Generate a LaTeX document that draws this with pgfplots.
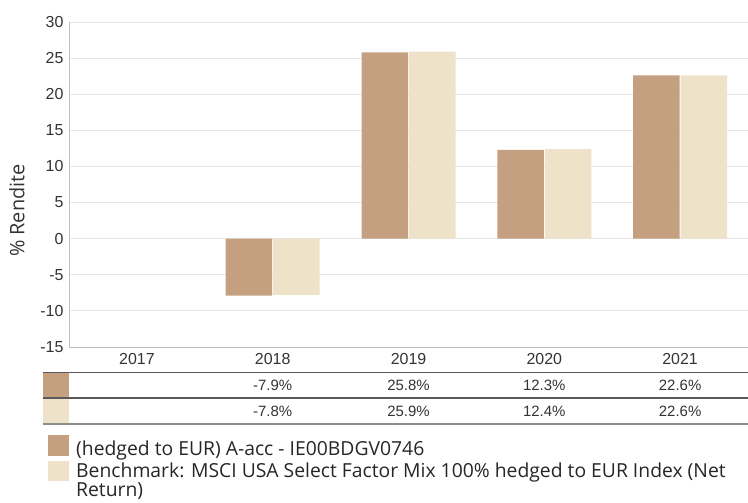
\documentclass[border=0pt]{standalone}
\usepackage{fontspec}
\setmainfont{Open Sans}
\newfontfamily\arialf{Liberation Sans}
\usepackage{pgfplots}
\pgfplotsset{compat=1.18}
\definecolor{fund}{HTML}{C4A080}
\definecolor{bench}{HTML}{EEE2C8}
\definecolor{txt}{HTML}{333333}
\begin{document}
\begin{tikzpicture}[x=1bp,y=1bp]
\useasboundingbox (-69,-156) rectangle (679,347);
\begin{axis}[
  at={(0,0)}, anchor=south west, scale only axis,
  width=679bp, height=325bp,
  xmin=-0.5, xmax=4.5, ymin=-15, ymax=30,
  ytick={-15,-10,...,30},
  xtick={0,1,2,3,4}, xticklabels={2017,2018,2019,2020,2021},
  ymajorgrids, grid style={draw=black!10, line width=0.8bp},
  axis x line*=bottom, axis y line*=left,
  axis line style={draw=black!25, line width=0.8bp, -},
  major tick length=0pt,
  ticklabel style={font=\arialf\fontsize{16}{18}\selectfont, text=txt},
  /pgf/number format/assume math mode=true,
  yticklabel style={xshift=-2bp},
  xticklabel style={yshift=-2.5bp},
  ylabel={\% Rendite},
  ylabel style={at={(axis description cs:-0.0766,0.42)}, anchor=center, font=\fontsize{20}{22}\selectfont, text=txt},
  ybar=1bp, bar width=46.5bp,
  clip=false,
]
\addplot[fill=fund, draw=none] coordinates {(1,-7.9) (2,25.8) (3,12.3) (4,22.6)};
\addplot[fill=bench, draw=none] coordinates {(1,-7.8) (2,25.9) (3,12.4) (4,22.6)};
\end{axis}
% table
\fill[fund] (-26,-26.5) rectangle (0,-50);
\fill[bench] (-26,-52) rectangle (0,-76);
\draw[line width=1.5bp, draw=black!65] (-26,-25.5) -- (679,-25.5);
\draw[line width=1.5bp, draw=black!65] (-26,-51) -- (679,-51);
\draw[line width=1.5bp, draw=black!45] (-26,-77) -- (679,-77);
\foreach \i/\v in {1/-7.9\%,2/25.8\%,3/12.3\%,4/22.6\%}
  \node[font=\arialf\fontsize{15}{17}\selectfont, text=txt] at ({(\i+0.5)*135.8},-38) {\v};
\foreach \i/\v in {1/-7.8\%,2/25.9\%,3/12.4\%,4/22.6\%}
  \node[font=\arialf\fontsize{15}{17}\selectfont, text=txt] at ({(\i+0.5)*135.8},-64) {\v};
% legend
\fill[fund] (-21,-88) rectangle (0,-109);
\fill[bench] (-21,-114) rectangle (0,-134);
\node[anchor=base west, inner sep=0pt, font=\fontsize{19.4}{22}\selectfont, text=black!85] at (7,-108.2) {(hedged to EUR) A-acc - IE00BDGV0746};
\node[anchor=north west, inner sep=0pt, align=left, font=\fontsize{19.4}{18.8}\selectfont, text=black!85] at (7,-116) {Benchmark: MSCI USA Select Factor Mix 100\% hedged to EUR Index (Net\\Return)};
\end{tikzpicture}
\end{document}
